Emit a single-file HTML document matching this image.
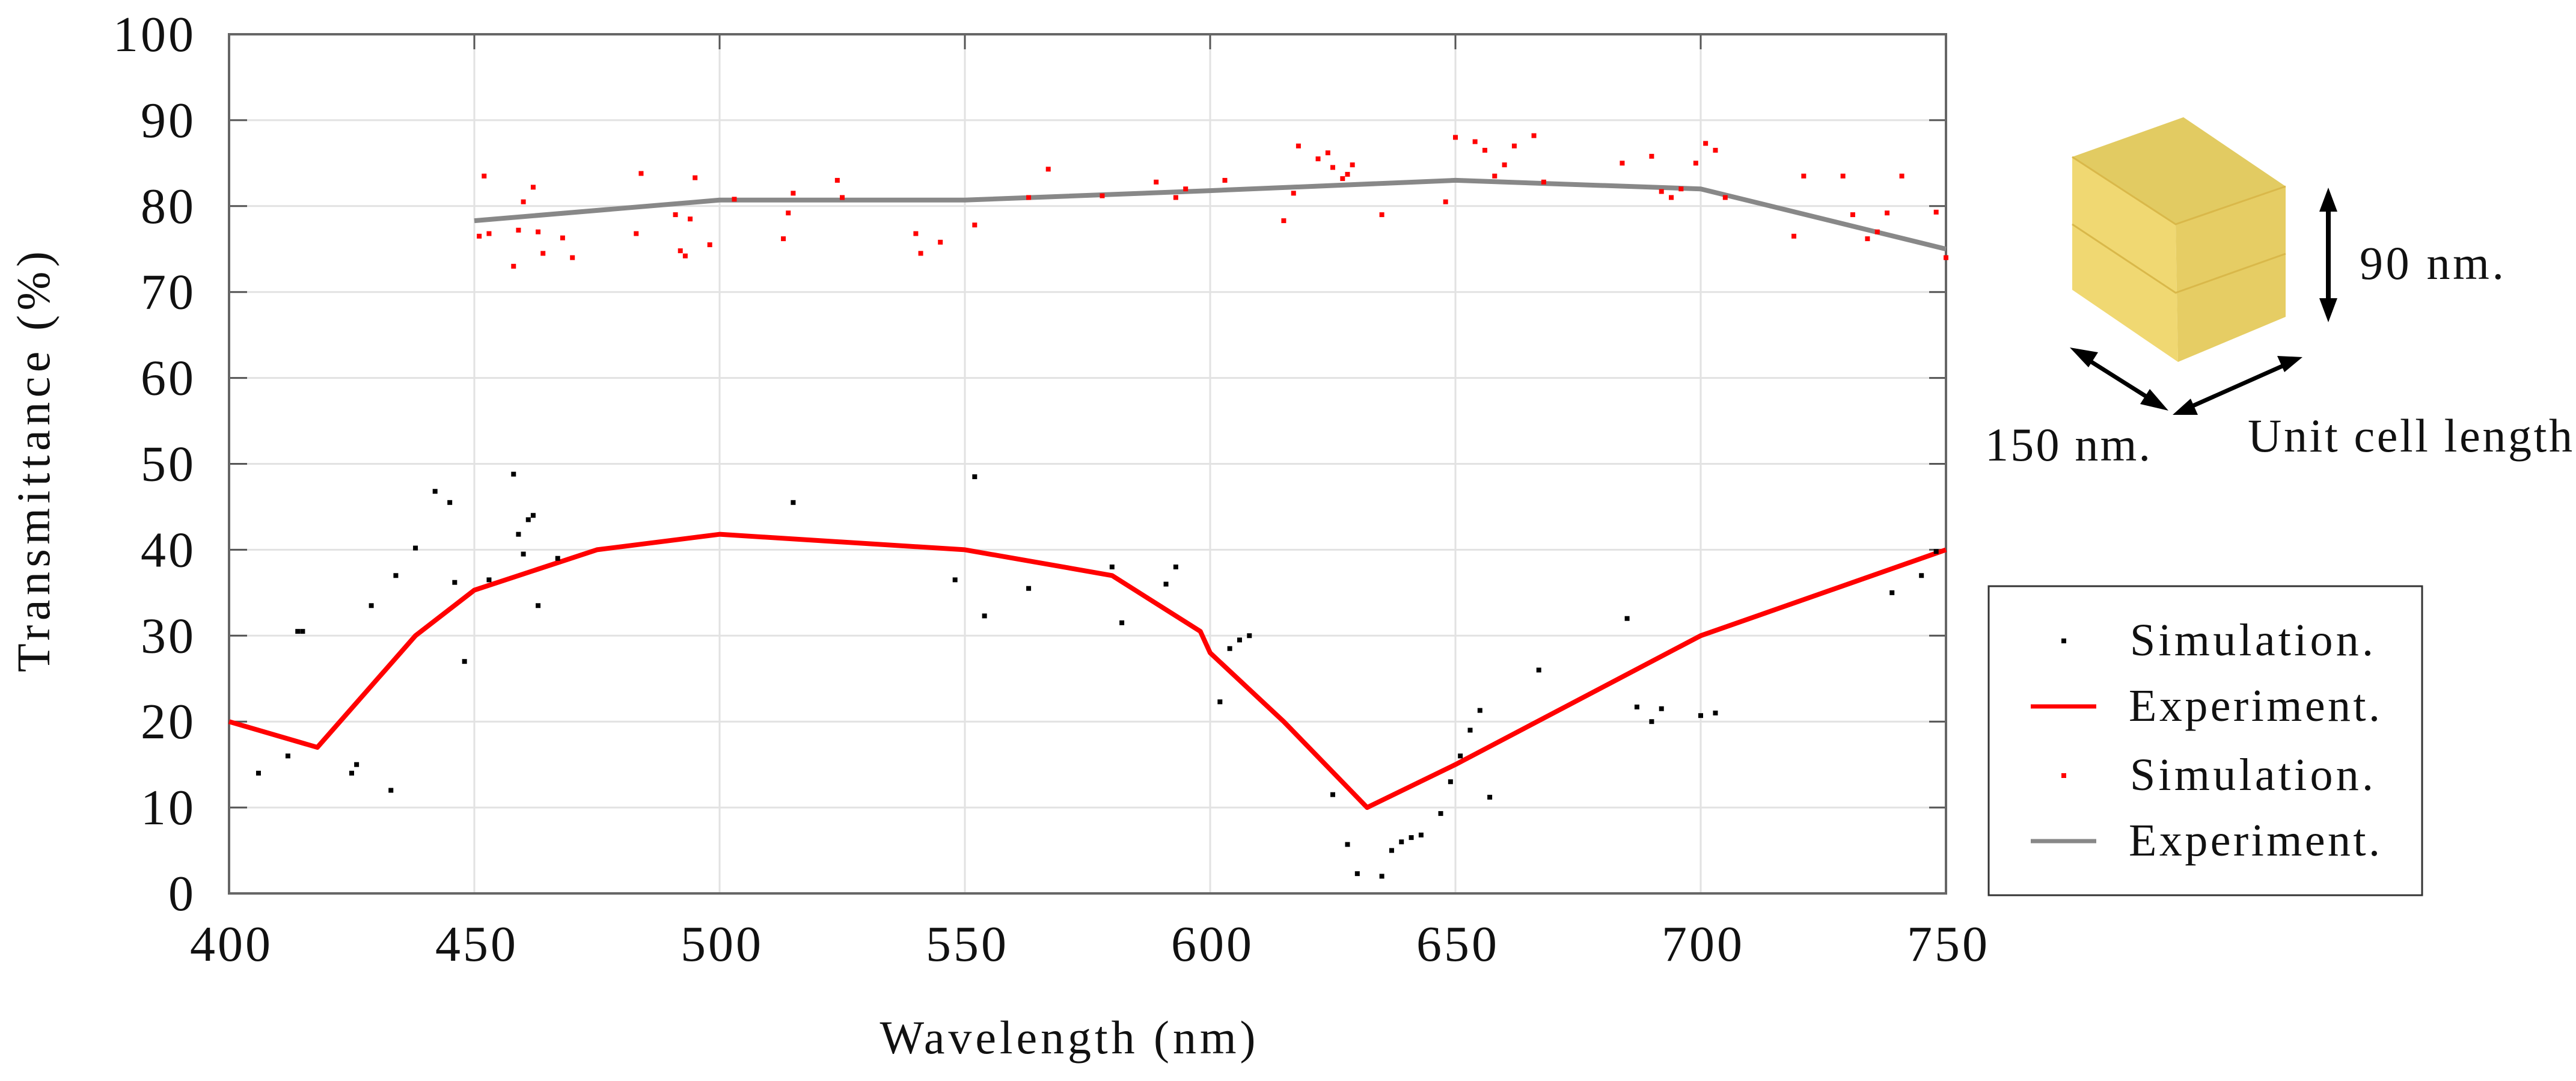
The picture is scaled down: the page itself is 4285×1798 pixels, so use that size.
<!DOCTYPE html>
<html><head><meta charset="utf-8"><style>
html,body{margin:0;padding:0;background:#fff;}
svg{display:block;font-family:"Liberation Serif",serif;}
</style></head><body>
<svg id="chart" width="4285" height="1798" viewBox="0 0 4285 1798" xmlns="http://www.w3.org/2000/svg">
<g id="grid"></g>
<g id="axes"></g>
<g id="marks"></g>
<text transform="translate(82,768) rotate(-90)" text-anchor="middle" font-size="78" fill="#111" textLength="700">Transmittance (%)</text>
<text x="1776" y="1752" text-anchor="middle" font-size="78" fill="#111" textLength="625">Wavelength (nm)</text>
<g>
<rect x="3308" y="975" width="721" height="514" fill="#fff" stroke="#333" stroke-width="3"/>
<rect x="3429" y="1062" width="8" height="8" fill="#000"/>
<text x="3543" y="1090" font-size="76" fill="#111" textLength="405">Simulation.</text>
<line x1="3378" y1="1175" x2="3487" y2="1175" stroke="#ff0000" stroke-width="7"/>
<text x="3541" y="1199" font-size="76" fill="#111" textLength="418">Experiment.</text>
<rect x="3429" y="1286" width="8" height="8" fill="#ff0000"/>
<text x="3543" y="1314" font-size="76" fill="#111" textLength="405">Simulation.</text>
<line x1="3378" y1="1399" x2="3487" y2="1399" stroke="#888" stroke-width="7"/>
<text x="3541" y="1423" font-size="76" fill="#111" textLength="418">Experiment.</text>
</g>
<g>
<polygon points="3447,261 3632,195 3802,310 3619,373" fill="#e2cb62"/>
<polygon points="3447,261 3619,373 3623,602 3447,482" fill="#f0d872"/>
<polygon points="3619,373 3802,310 3802,527 3623,602" fill="#e6cd64"/>
<polyline points="3447,373 3619,487 3802,422" fill="none" stroke="#d9b84a" stroke-width="3"/>
<polyline points="3447,261 3619,373 3802,310" fill="none" stroke="#d9b84a" stroke-width="3"/>
<line x1="3873" y1="335" x2="3873" y2="513" stroke="#000" stroke-width="8"/>
<polygon points="3873,312 3858,352 3888,352" fill="#000"/>
<polygon points="3873,536 3858,496 3888,496" fill="#000"/>
<text x="3925" y="464" font-size="78" fill="#111" textLength="240">90 nm.</text>
<line x1="3460" y1="590" x2="3590" y2="672" stroke="#000" stroke-width="7"/>
<polygon points="3443,578 3490,586 3474,611" fill="#000"/>
<polygon points="3607,683 3576,647 3560,672" fill="#000"/>
<line x1="3632" y1="682" x2="3812" y2="602" stroke="#000" stroke-width="7"/>
<polygon points="3614,690 3644,663 3656,690" fill="#000"/>
<polygon points="3830,594 3800,619 3788,592" fill="#000"/>
<text x="3302" y="766" font-size="78" fill="#111" textLength="275">150 nm.</text>
<text x="3739" y="751" font-size="78" fill="#111" textLength="540">Unit cell length</text>
</g>
</svg>
<script>
const xTicks=[400,450,500,550,600,650,700,750];
const yTicks=[0,10,20,30,40,50,60,70,80,90,100];
const redExpX=[400,418,438,450,475,500,550,580,598,600,615,632,650,700,750];
const redExpY=[20,17,30,35.3,40,41.8,40,37,30.5,28,20,10,15,30,40];
const grayExpX=[450,500,550,600,650,700,750];
const grayExpY=[78.3,80.7,80.7,81.8,83,82,75];
const blackSimX=[406,412,414,415,425,426,429,433,434,438,442,445,446,448,453,458,459,460,461,462,463,467,515,548,552,554,563,580,582,591,593,602,604,606,608,625,628,630,635,637,639,641,643,647,649,651,653,655,657,667,685,687,690,692,700,703,739,745,748];
const blackSimY=[14,16,30.5,30.5,14,15,33.5,12,37,40.2,46.8,45.5,36.2,27,36.5,48.8,41.8,39.5,43.5,44,33.5,39,45.5,36.5,48.5,32.3,35.5,38,31.5,36,38,22.3,28.5,29.5,30,11.5,5.7,2.3,2,5,6,6.5,6.8,9.3,13,16,19,21.3,11.2,26,32,21.7,20,21.5,20.7,21,35,37,39.8];
const redSimX=[451,452,453,458,459,460,462,463,464,468,470,483,484,491,492,493,494,495,498,503,513,514,515,524,525,540,541,545,552,563,567,578,589,593,595,603,615,617,618,622,624,625,627,628,629,635,648,650,654,656,658,660,662,666,668,684,690,692,694,696,699,701,703,705,719,721,729,731,734,736,738,741,748,750];
const redSimY=[76.5,83.5,76.8,73,77.2,80.5,82.2,77,74.5,76.3,74,76.8,83.8,79,74.8,74.2,78.5,83.3,75.5,80.8,76.2,79.2,81.5,83,81,76.8,74.5,75.8,77.8,81,84.3,81.2,82.8,81,82,83,78.3,81.5,87,85.5,86.2,84.5,83.2,83.7,84.8,79,80.5,88,87.5,86.5,83.5,84.8,87,88.2,82.8,85,85.8,81.7,81,82,85,87.3,86.5,81,76.5,83.5,83.5,79,76.2,77,79.2,83.5,79.3,74];
const NS='http://www.w3.org/2000/svg';
const L=381,R=3237,T=57,B=1486;
const xs=v=>L+(v-400)/350*(R-L);
const ys=v=>B-(v/100)*(B-T);
function mk(tag,attrs,parent){const e=document.createElementNS(NS,tag);for(const k in attrs)e.setAttribute(k,attrs[k]);parent.appendChild(e);return e;}
const grid=document.getElementById('grid'),axes=document.getElementById('axes'),marks=document.getElementById('marks');
yTicks.forEach(t=>{
 const g=mk('line',{x1:L,x2:R,y1:ys(t),y2:ys(t),stroke:'#e2e2e2','stroke-width':3},grid);
 
 
 const a=mk('line',{x1:L,x2:L+30,y1:ys(t),y2:ys(t),stroke:'#555','stroke-width':3},axes);
 
 
 const b=mk('line',{x1:R-28,x2:R,y1:ys(t),y2:ys(t),stroke:'#555','stroke-width':3},axes);
 
 
 const tx=mk('text',{x:326,y:ys(t)+28,'text-anchor':'end','font-size':84,'letter-spacing':4,fill:'#111'},axes);
 tx.textContent=t;
 
 
});
xTicks.forEach(t=>{
 const g=mk('line',{x1:xs(t),x2:xs(t),y1:T,y2:B,stroke:'#e2e2e2','stroke-width':3},grid);
 
 
 const a=mk('line',{x1:xs(t),x2:xs(t),y1:T,y2:T+25,stroke:'#555','stroke-width':3},axes);
 
 
 const tx=mk('text',{x:xs(t)+4,y:1598,'text-anchor':'middle','font-size':84,'letter-spacing':4,fill:'#111'},axes);
 tx.textContent=t;
 
 
});
const frame=mk('rect',{x:L,y:T,width:R-L,height:B-T,fill:'none',stroke:'#666','stroke-width':4},axes);


function line(xa,ya,color,name){
 const p=mk('polyline',{points:xa.map((x,i)=>xs(x)+','+ys(ya[i])).join(' '),fill:'none',stroke:color,'stroke-width':8,'stroke-linejoin':'round'},marks);
 
 
}
function pts(xa,ya,color,name){
 xa.forEach((x,i)=>{
  const r=mk('rect',{x:xs(x)-4,y:ys(ya[i])-4,width:8,height:8,fill:color},marks);
  
  
 });
}
line(grayExpX,grayExpY,'#888','gray-experiment-line');
line(redExpX,redExpY,'#ff0000','red-experiment-line');
pts(blackSimX,blackSimY,'#000','black-simulation-point');
pts(redSimX,redSimY,'#ff0000','red-simulation-point');
</script>
</body></html>
